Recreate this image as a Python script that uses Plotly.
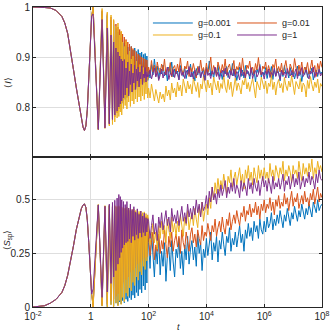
import plotly.graph_objects as go
from plotly.subplots import make_subplots

# log10(t) sample grid: smooth start, resolved oscillations, long-time noise
early_logt = [-2.0, -1.8, -1.6, -1.4, -1.2, -1.0, -0.9, -0.8, -0.7, -0.6,
              -0.5, -0.4, -0.33, -0.27, -0.22, -0.17, -0.12, -0.07, -0.02, 0.03]
osc_logt = [0.08, 0.26, 0.39, 0.49, 0.57, 0.64, 0.70, 0.75, 0.79, 0.83,
            0.87, 0.91, 0.94, 0.97, 1.00, 1.02, 1.05, 1.07, 1.10, 1.13,
            1.16, 1.19, 1.22, 1.25, 1.28, 1.31, 1.34, 1.37, 1.40, 1.43,
            1.46, 1.49, 1.52, 1.55, 1.58, 1.61, 1.64, 1.67, 1.70, 1.73,
            1.76, 1.79, 1.82, 1.85, 1.88, 1.91, 1.94, 1.97]
late_logt = [2.0, 2.05, 2.1, 2.15, 2.2, 2.25, 2.3, 2.35, 2.4, 2.45,
             2.5, 2.55, 2.6, 2.65, 2.7, 2.75, 2.8, 2.85, 2.9, 2.95,
             3.0, 3.05, 3.1, 3.15, 3.2, 3.25, 3.3, 3.35, 3.4, 3.45,
             3.5, 3.55, 3.6, 3.65, 3.7, 3.75, 3.8, 3.85, 3.9, 3.95,
             4.0, 4.05, 4.1, 4.15, 4.2, 4.25, 4.3, 4.35, 4.4, 4.45,
             4.5, 4.55, 4.6, 4.65, 4.7, 4.75, 4.8, 4.85, 4.9, 4.95,
             5.0, 5.05, 5.1, 5.15, 5.2, 5.25, 5.3, 5.35, 5.4, 5.45,
             5.5, 5.55, 5.6, 5.65, 5.7, 5.75, 5.8, 5.85, 5.9, 5.95,
             6.0, 6.05, 6.1, 6.15, 6.2, 6.25, 6.3, 6.35, 6.4, 6.45,
             6.5, 6.55, 6.6, 6.65, 6.7, 6.75, 6.8, 6.85, 6.9, 6.95,
             7.0, 7.05, 7.1, 7.15, 7.2, 7.25, 7.3, 7.35, 7.4, 7.45,
             7.5, 7.55, 7.6, 7.65, 7.7, 7.75, 7.8, 7.85, 7.9, 7.95,
             8.0]

# shared short-time part (same for every g)
early_I = [1.000, 1.000, 0.999, 0.998, 0.993, 0.981, 0.968, 0.947, 0.914, 0.875,
           0.838, 0.800, 0.776, 0.760, 0.753, 0.762, 0.795, 0.855, 0.930, 0.982]
early_S = [0.000, 0.002, 0.006, 0.018, 0.036, 0.068, 0.100, 0.148, 0.212, 0.285,
           0.362, 0.423, 0.458, 0.476, 0.481, 0.465, 0.405, 0.300, 0.170, 0.060]

# <I> : oscillation part
I_osc_001 = [0.999, 0.756, 0.991, 0.761, 0.983, 0.768, 0.974, 0.776, 0.965, 0.783,
             0.957, 0.790, 0.950, 0.797, 0.944, 0.802, 0.938, 0.807, 0.933, 0.811,
             0.928, 0.815, 0.924, 0.819, 0.920, 0.823, 0.917, 0.827, 0.921, 0.830,
             0.914, 0.834, 0.918, 0.837, 0.911, 0.840, 0.915, 0.842, 0.908, 0.845,
             0.910, 0.847, 0.905, 0.849, 0.907, 0.851, 0.902, 0.853]
I_osc_01 = [1.000, 0.755, 0.993, 0.759, 0.987, 0.765, 0.980, 0.772, 0.973, 0.780,
            0.966, 0.788, 0.960, 0.796, 0.955, 0.803, 0.950, 0.808, 0.946, 0.813,
            0.940, 0.818, 0.935, 0.822, 0.930, 0.826, 0.926, 0.830, 0.921, 0.833,
            0.917, 0.836, 0.913, 0.839, 0.909, 0.842, 0.906, 0.844, 0.903, 0.846,
            0.900, 0.848, 0.898, 0.850, 0.896, 0.852, 0.894, 0.855]
I_osc_1 = [1.000, 0.754, 0.997, 0.757, 0.990, 0.762, 0.984, 0.765, 0.975, 0.770,
           0.962, 0.778, 0.968, 0.781, 0.944, 0.790, 0.952, 0.784, 0.930, 0.797,
           0.921, 0.803, 0.932, 0.796, 0.905, 0.810, 0.912, 0.801, 0.896, 0.812,
           0.902, 0.806, 0.884, 0.816, 0.892, 0.810, 0.876, 0.820, 0.885, 0.812,
           0.870, 0.822, 0.879, 0.815, 0.862, 0.826, 0.871, 0.818]
I_osc_g1 = [0.986, 0.755, 0.975, 0.758, 0.958, 0.766, 0.944, 0.775, 0.930, 0.784,
            0.918, 0.792, 0.910, 0.800, 0.902, 0.806, 0.896, 0.812, 0.892, 0.818,
            0.895, 0.824, 0.878, 0.838, 0.890, 0.822, 0.872, 0.845, 0.886, 0.830,
            0.868, 0.848, 0.884, 0.835, 0.876, 0.852, 0.880, 0.840, 0.870, 0.856,
            0.882, 0.845, 0.866, 0.858, 0.879, 0.850, 0.871, 0.860]

# <I> : long-time part
I_late_001 = [0.872, 0.858, 0.885, 0.864, 0.896, 0.870, 0.882, 0.856, 0.878, 0.866,
              0.884, 0.862, 0.874, 0.852, 0.880, 0.868, 0.890, 0.860, 0.876, 0.866,
              0.872, 0.855, 0.883, 0.869, 0.861, 0.879, 0.857, 0.874, 0.866, 0.886,
              0.860, 0.871, 0.852, 0.877, 0.864, 0.882, 0.858, 0.869, 0.875, 0.854,
              0.880, 0.866, 0.892, 0.862, 0.873, 0.857, 0.878, 0.868, 0.884, 0.861,
              0.870, 0.855, 0.876, 0.866, 0.881, 0.859, 0.873, 0.864, 0.887, 0.862,
              0.876, 0.853, 0.869, 0.880, 0.861, 0.874, 0.858, 0.883, 0.866, 0.871,
              0.856, 0.878, 0.864, 0.872, 0.850, 0.876, 0.867, 0.885, 0.860, 0.870,
              0.864, 0.879, 0.857, 0.872, 0.866, 0.881, 0.855, 0.875, 0.862, 0.877,
              0.868, 0.852, 0.874, 0.861, 0.883, 0.866, 0.871, 0.858, 0.879, 0.864,
              0.873, 0.856, 0.868, 0.882, 0.862, 0.875, 0.851, 0.870, 0.865, 0.880,
              0.859, 0.872, 0.866, 0.878, 0.854, 0.869, 0.874, 0.861, 0.877, 0.866,
              0.870]
I_late_01 = [0.880, 0.866, 0.893, 0.870, 0.884, 0.862, 0.890, 0.874, 0.868, 0.886,
             0.872, 0.896, 0.864, 0.880, 0.871, 0.889, 0.860, 0.878, 0.883, 0.867,
             0.886, 0.870, 0.898, 0.874, 0.865, 0.882, 0.876, 0.892, 0.861, 0.879,
             0.870, 0.887, 0.873, 0.858, 0.881, 0.868, 0.894, 0.872, 0.879, 0.864,
             0.888, 0.869, 0.877, 0.900, 0.866, 0.883, 0.874, 0.862, 0.890, 0.876,
             0.868, 0.885, 0.872, 0.896, 0.863, 0.879, 0.886, 0.870, 0.876, 0.893,
             0.865, 0.881, 0.874, 0.889, 0.868, 0.898, 0.872, 0.861, 0.884, 0.877,
             0.892, 0.869, 0.880, 0.866, 0.887, 0.874, 0.899, 0.871, 0.864, 0.882,
             0.876, 0.890, 0.867, 0.883, 0.872, 0.859, 0.885, 0.878, 0.896, 0.868,
             0.881, 0.870, 0.888, 0.864, 0.879, 0.893, 0.873, 0.866, 0.886, 0.875,
             0.869, 0.897, 0.877, 0.862, 0.884, 0.871, 0.890, 0.867, 0.880, 0.874,
             0.889, 0.866, 0.878, 0.894, 0.870, 0.883, 0.861, 0.887, 0.875, 0.892,
             0.879]
I_late_1 = [0.838, 0.818, 0.846, 0.824, 0.812, 0.835, 0.820, 0.808, 0.830, 0.816,
            0.826, 0.810, 0.842, 0.822, 0.834, 0.814, 0.848, 0.828, 0.838, 0.820,
            0.850, 0.832, 0.844, 0.822, 0.856, 0.838, 0.828, 0.852, 0.836, 0.845,
            0.826, 0.858, 0.840, 0.831, 0.849, 0.819, 0.846, 0.836, 0.862, 0.842,
            0.830, 0.854, 0.838, 0.848, 0.824, 0.860, 0.843, 0.834, 0.852, 0.828,
            0.847, 0.837, 0.864, 0.840, 0.829, 0.855, 0.835, 0.850, 0.821, 0.845,
            0.858, 0.833, 0.848, 0.839, 0.826, 0.853, 0.844, 0.862, 0.836, 0.849,
            0.831, 0.846, 0.857, 0.838, 0.818, 0.851, 0.842, 0.834, 0.860, 0.844,
            0.836, 0.852, 0.827, 0.848, 0.841, 0.865, 0.835, 0.850, 0.824, 0.846,
            0.855, 0.838, 0.847, 0.829, 0.859, 0.843, 0.833, 0.852, 0.840, 0.863,
            0.839, 0.825, 0.851, 0.844, 0.836, 0.857, 0.830, 0.848, 0.842, 0.820,
            0.853, 0.837, 0.861, 0.845, 0.832, 0.850, 0.839, 0.856, 0.828, 0.847,
            0.841]
I_late_g1 = [0.862, 0.874, 0.856, 0.869, 0.878, 0.860, 0.871, 0.853, 0.866, 0.876,
             0.858, 0.870, 0.864, 0.880, 0.855, 0.868, 0.862, 0.875, 0.859, 0.872,
             0.866, 0.854, 0.877, 0.863, 0.870, 0.857, 0.873, 0.865, 0.881, 0.860,
             0.869, 0.856, 0.874, 0.862, 0.867, 0.879, 0.858, 0.871, 0.864, 0.853,
             0.876, 0.863, 0.868, 0.857, 0.872, 0.865, 0.880, 0.861, 0.870, 0.855,
             0.867, 0.874, 0.860, 0.878, 0.864, 0.869, 0.856, 0.873, 0.862, 0.876,
             0.859, 0.871, 0.866, 0.854, 0.877, 0.863, 0.870, 0.858, 0.874, 0.867,
             0.862, 0.879, 0.857, 0.868, 0.873, 0.860, 0.866, 0.881, 0.864, 0.870,
             0.856, 0.872, 0.865, 0.876, 0.859, 0.869, 0.863, 0.878, 0.861, 0.871,
             0.868, 0.855, 0.874, 0.864, 0.870, 0.858, 0.877, 0.866, 0.862, 0.873,
             0.860, 0.869, 0.876, 0.857, 0.871, 0.865, 0.879, 0.861, 0.868, 0.874,
             0.863, 0.856, 0.872, 0.867, 0.880, 0.859, 0.870, 0.865, 0.875, 0.862,
             0.868]

# <S_sp> : oscillation part
S_osc_001 = [0.010, 0.477, 0.006, 0.471, 0.002, 0.473, 0.012, 0.466, 0.004, 0.468,
             0.018, 0.462, 0.008, 0.465, 0.024, 0.458, 0.014, 0.460, 0.030, 0.455,
             0.020, 0.456, 0.036, 0.450, 0.026, 0.452, 0.044, 0.446, 0.034, 0.448,
             0.055, 0.442, 0.042, 0.444, 0.068, 0.438, 0.052, 0.436, 0.082, 0.432,
             0.066, 0.428, 0.098, 0.424, 0.080, 0.420, 0.112, 0.414]
S_osc_01 = [0.000, 0.477, 0.008, 0.470, 0.012, 0.472, 0.028, 0.468, 0.036, 0.470,
            0.050, 0.466, 0.062, 0.468, 0.078, 0.462, 0.090, 0.464, 0.105, 0.458,
            0.115, 0.460, 0.128, 0.454, 0.140, 0.450, 0.152, 0.452, 0.162, 0.446,
            0.172, 0.448, 0.182, 0.442, 0.192, 0.440, 0.200, 0.436, 0.208, 0.432,
            0.215, 0.430, 0.222, 0.426, 0.228, 0.422, 0.234, 0.418]
S_osc_1 = [0.000, 0.478, 0.004, 0.473, 0.000, 0.476, 0.010, 0.472, 0.000, 0.474,
           0.018, 0.470, 0.005, 0.472, 0.030, 0.468, 0.012, 0.466, 0.045, 0.470,
           0.025, 0.462, 0.065, 0.466, 0.050, 0.458, 0.090, 0.462, 0.075, 0.455,
           0.115, 0.458, 0.100, 0.450, 0.140, 0.454, 0.125, 0.446, 0.165, 0.448,
           0.150, 0.440, 0.190, 0.444, 0.175, 0.436, 0.215, 0.430]
S_osc_g1 = [0.085, 0.476, 0.045, 0.470, 0.070, 0.480, 0.110, 0.488, 0.140, 0.498,
            0.170, 0.508, 0.200, 0.525, 0.230, 0.515, 0.255, 0.500, 0.275, 0.492,
            0.290, 0.478, 0.300, 0.492, 0.306, 0.462, 0.318, 0.480, 0.300, 0.455,
            0.330, 0.468, 0.312, 0.442, 0.338, 0.458, 0.320, 0.432, 0.345, 0.448,
            0.326, 0.424, 0.348, 0.438, 0.332, 0.416, 0.350, 0.412]

# <S_sp> : long-time part
S_late_001 = [0.300, 0.180, 0.350, 0.220, 0.140, 0.280, 0.200, 0.330, 0.150, 0.260,
              0.190, 0.300, 0.120, 0.240, 0.280, 0.170, 0.310, 0.210, 0.140, 0.270,
              0.230, 0.320, 0.180, 0.260, 0.150, 0.290, 0.220, 0.330, 0.200, 0.270,
              0.310, 0.220, 0.280, 0.190, 0.340, 0.250, 0.300, 0.170, 0.270, 0.230,
              0.320, 0.240, 0.290, 0.350, 0.220, 0.300, 0.260, 0.330, 0.210, 0.310,
              0.270, 0.350, 0.290, 0.240, 0.330, 0.300, 0.370, 0.260, 0.320, 0.290,
              0.350, 0.280, 0.330, 0.380, 0.300, 0.340, 0.260, 0.360, 0.320, 0.390,
              0.330, 0.370, 0.310, 0.400, 0.350, 0.380, 0.320, 0.410, 0.360, 0.340,
              0.400, 0.350, 0.420, 0.370, 0.390, 0.440, 0.360, 0.410, 0.380, 0.430,
              0.390, 0.450, 0.410, 0.370, 0.430, 0.400, 0.460, 0.420, 0.380, 0.440,
              0.410, 0.470, 0.430, 0.400, 0.450, 0.420, 0.480, 0.440, 0.410, 0.460,
              0.430, 0.480, 0.450, 0.420, 0.490, 0.460, 0.440, 0.500, 0.450, 0.470,
              0.480]
S_late_01 = [0.320, 0.240, 0.300, 0.350, 0.220, 0.290, 0.260, 0.340, 0.250, 0.310,
             0.270, 0.360, 0.290, 0.230, 0.330, 0.280, 0.350, 0.260, 0.310, 0.340,
             0.280, 0.330, 0.250, 0.360, 0.300, 0.270, 0.350, 0.310, 0.260, 0.340,
             0.370, 0.300, 0.340, 0.280, 0.360, 0.320, 0.290, 0.380, 0.310, 0.350,
             0.330, 0.390, 0.340, 0.310, 0.380, 0.350, 0.410, 0.330, 0.370, 0.400,
             0.350, 0.420, 0.370, 0.340, 0.410, 0.380, 0.440, 0.360, 0.400, 0.430,
             0.390, 0.450, 0.410, 0.380, 0.440, 0.420, 0.470, 0.400, 0.450, 0.430,
             0.480, 0.420, 0.460, 0.440, 0.490, 0.430, 0.470, 0.410, 0.480, 0.450,
             0.500, 0.440, 0.480, 0.460, 0.510, 0.450, 0.490, 0.430, 0.500, 0.470,
             0.520, 0.460, 0.490, 0.470, 0.530, 0.480, 0.510, 0.450, 0.500, 0.540,
             0.470, 0.510, 0.490, 0.530, 0.460, 0.500, 0.520, 0.480, 0.540, 0.490,
             0.510, 0.470, 0.530, 0.500, 0.550, 0.480, 0.520, 0.560, 0.490, 0.530,
             0.510]
S_late_1 = [0.360, 0.290, 0.340, 0.390, 0.300, 0.350, 0.270, 0.380, 0.320, 0.400,
            0.340, 0.380, 0.300, 0.410, 0.360, 0.320, 0.420, 0.350, 0.390, 0.330,
            0.400, 0.350, 0.430, 0.370, 0.330, 0.420, 0.380, 0.450, 0.360, 0.410,
            0.440, 0.380, 0.460, 0.410, 0.370, 0.470, 0.420, 0.490, 0.400, 0.450,
            0.480, 0.430, 0.510, 0.460, 0.560, 0.500, 0.580, 0.530, 0.600, 0.540,
            0.590, 0.550, 0.620, 0.570, 0.530, 0.610, 0.580, 0.640, 0.560, 0.600,
            0.630, 0.570, 0.610, 0.650, 0.580, 0.620, 0.550, 0.640, 0.600, 0.660,
            0.590, 0.630, 0.570, 0.650, 0.610, 0.580, 0.660, 0.600, 0.640, 0.590,
            0.650, 0.600, 0.630, 0.580, 0.670, 0.610, 0.640, 0.590, 0.660, 0.620,
            0.600, 0.650, 0.620, 0.680, 0.590, 0.640, 0.610, 0.660, 0.630, 0.580,
            0.660, 0.620, 0.640, 0.600, 0.680, 0.630, 0.590, 0.670, 0.620, 0.650,
            0.610, 0.670, 0.630, 0.690, 0.600, 0.650, 0.620, 0.680, 0.640, 0.660,
            0.630]
S_late_g1 = [0.400, 0.320, 0.380, 0.430, 0.340, 0.390, 0.310, 0.420, 0.370, 0.440,
             0.360, 0.410, 0.450, 0.380, 0.420, 0.350, 0.460, 0.400, 0.430, 0.390,
             0.450, 0.380, 0.420, 0.470, 0.400, 0.440, 0.390, 0.480, 0.420, 0.460,
             0.410, 0.470, 0.430, 0.500, 0.440, 0.480, 0.420, 0.490, 0.450, 0.470,
             0.520, 0.460, 0.540, 0.490, 0.560, 0.500, 0.530, 0.480, 0.550, 0.510,
             0.570, 0.520, 0.550, 0.590, 0.510, 0.560, 0.530, 0.580, 0.540, 0.600,
             0.530, 0.570, 0.550, 0.510, 0.590, 0.540, 0.580, 0.560, 0.520, 0.600,
             0.550, 0.580, 0.530, 0.600, 0.560, 0.540, 0.590, 0.520, 0.570, 0.610,
             0.560, 0.590, 0.540, 0.600, 0.570, 0.530, 0.610, 0.550, 0.580, 0.560,
             0.600, 0.550, 0.580, 0.620, 0.540, 0.590, 0.570, 0.610, 0.550, 0.580,
             0.620, 0.560, 0.600, 0.570, 0.630, 0.550, 0.590, 0.610, 0.560, 0.600,
             0.580, 0.630, 0.570, 0.610, 0.590, 0.550, 0.620, 0.580, 0.640, 0.600,
             0.590]

series_names = ["g=0.001", "g=0.01", "g=0.1", "g=1"]
colors = ["#0072BD", "#D95319", "#EDB120", "#7E2F8E"]
I_parts = [(I_osc_001, I_late_001), (I_osc_01, I_late_01), (I_osc_1, I_late_1), (I_osc_g1, I_late_g1)]
S_parts = [(S_osc_001, S_late_001), (S_osc_01, S_late_01), (S_osc_1, S_late_1), (S_osc_g1, S_late_g1)]

t = [10 ** v for v in early_logt + osc_logt + late_logt]

font = "Liberation Sans, Arial, sans-serif"
ink = "#262626"

fig = make_subplots(rows=2, cols=1, shared_xaxes=True, vertical_spacing=0)

for name, col, (io, il), (so, sl) in zip(series_names, colors, I_parts, S_parts):
    fig.add_trace(go.Scatter(x=t, y=early_I + io + il, mode="lines", name=name,
                             line=dict(color=col, width=1), showlegend=False), row=1, col=1)
    fig.add_trace(go.Scatter(x=t, y=early_S + so + sl, mode="lines", name=name,
                             line=dict(color=col, width=1), showlegend=False), row=2, col=1)

xticks = [1e-2, 1, 1e2, 1e4, 1e6, 1e8]
xtext = ["10<sup>-2</sup>", "1", "10<sup>2</sup>", "10<sup>4</sup>", "10<sup>6</sup>", "10<sup>8</sup>"]

axis_style = dict(showline=True, linecolor=ink, linewidth=1, mirror="ticks",
                  ticks="inside", ticklen=3, tickcolor=ink, automargin=False,
                  showgrid=True, gridcolor="#dedede", gridwidth=1, zeroline=False,
                  tickfont=dict(family=font, size=10, color=ink))

fig.update_xaxes(type="log", range=[-2, 8], tickvals=xticks, ticktext=xtext, **axis_style)
fig.update_xaxes(showticklabels=False, row=1, col=1)
fig.update_yaxes(range=[0.7, 1], tickvals=[0.8, 0.9, 1], ticktext=["0.8", "0.9", "1"],
                 row=1, col=1, **axis_style)
fig.update_yaxes(range=[0, 0.7], tickvals=[0, 0.25, 0.5], ticktext=["0", "0.25", "0.5"],
                 row=2, col=1, **axis_style)

# axis titles
notes = [
    dict(text="<i>t</i>", x=0.502, y=-0.067, textangle=0),
    dict(text="⟨<i>I</i>⟩", x=-0.087, y=0.75, textangle=-90),
    dict(text="⟨<i>S</i><sub>sp</sub>⟩", x=-0.087, y=0.225, textangle=-90),
]
for n in notes:
    fig.add_annotation(xref="paper", yref="paper", showarrow=False,
                       xanchor="center", yanchor="middle",
                       font=dict(family=font, size=9, color=ink), **n)

# legend in two columns, drawn as short line samples with labels
legend_rows = [0.9467, 0.9467, 0.9067, 0.9067]
legend_cols = [0.415, 0.706, 0.415, 0.706]
for name, col, lx, ly in zip(series_names, colors, legend_cols, legend_rows):
    fig.add_shape(type="line", xref="paper", yref="paper",
                  x0=lx, x1=lx + 0.138, y0=ly, y1=ly, line=dict(color=col, width=1))
    fig.add_annotation(xref="paper", yref="paper", x=lx + 0.148, y=ly, text=name,
                       showarrow=False, xanchor="left", yanchor="middle",
                       font=dict(family=font, size=9, color=ink))

fig.update_layout(
    width=333, height=334,
    margin=dict(l=33, r=11, t=7, b=27),
    paper_bgcolor="white", plot_bgcolor="white",
    font=dict(family=font, size=10, color=ink),
    showlegend=False,
)

# the page body has a default 8px margin; drop it so the figure fills the window
fig.write_html("out.html", config={"displayModeBar": False},
               post_script="document.body.style.margin = '0';")
